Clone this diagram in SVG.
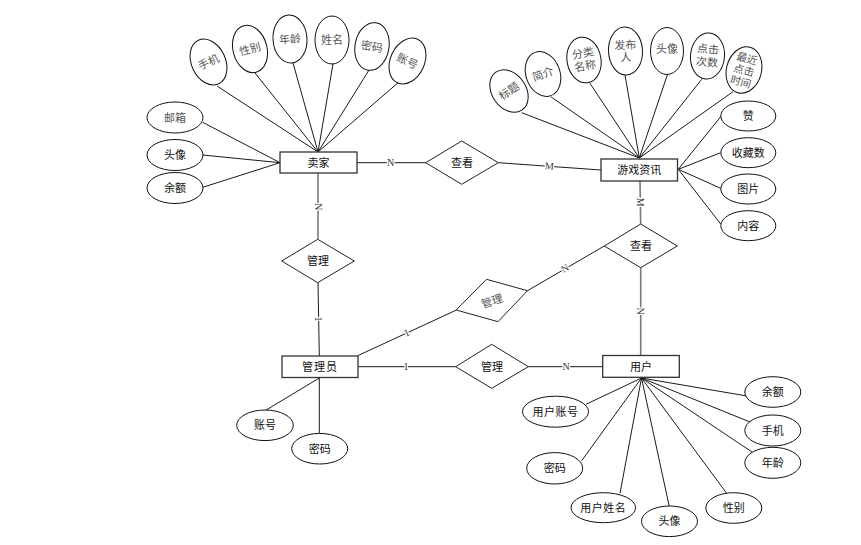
<svg xmlns="http://www.w3.org/2000/svg" width="861" height="545" viewBox="0 0 861 545">
<style>
.bg{fill:#fff}
.ln{stroke:#1a1a1a;stroke-width:1;fill:none}
.lg{stroke:#7a7a7a;stroke-width:1.6;fill:none}
.box{fill:#fff;stroke:#333;stroke-width:1.3}
.dia{fill:#fff;stroke:#222;stroke-width:1}
.el{fill:#fff;stroke:#111;stroke-width:1}
.t{font-family:"Noto Sans CJK SC","Noto Sans",sans-serif;font-size:11px;fill:#111;text-anchor:middle}
.tg{font-family:"Liberation Serif","Noto Sans CJK SC",serif;font-size:11px;fill:#555;text-anchor:middle}
.ts{font-size:10.5px}
.lb{font-family:"Liberation Serif",serif;font-size:10px;fill:#333;text-anchor:middle;paint-order:stroke;stroke:#fff;stroke-width:2.5}
</style>
<rect class="bg" x="0" y="0" width="861" height="545"/>
<g id="connectors">
<line class="ln" x1="217" y1="86" x2="318" y2="152"/>
<line class="ln" x1="255" y1="73" x2="318" y2="152"/>
<line class="ln" x1="293" y1="63" x2="318" y2="152"/>
<line class="ln" x1="333" y1="64" x2="318" y2="152"/>
<line class="ln" x1="369" y1="70" x2="318" y2="152"/>
<line class="ln" x1="400" y1="81" x2="318" y2="152"/>
<line class="ln" x1="202.7" y1="122.3" x2="280" y2="162.7"/>
<line class="ln" x1="202.7" y1="155" x2="280" y2="162.7"/>
<line class="ln" x1="202.7" y1="187.3" x2="280" y2="162.7"/>
<line class="ln" x1="521.7" y1="112.7" x2="639.3" y2="158"/>
<line class="ln" x1="550.7" y1="96.7" x2="639.3" y2="158"/>
<line class="ln" x1="590" y1="83.3" x2="639.3" y2="158"/>
<line class="ln" x1="625" y1="75" x2="639.3" y2="158"/>
<line class="ln" x1="667.3" y1="75" x2="639.3" y2="158"/>
<line class="ln" x1="701.7" y1="79.3" x2="639.3" y2="158"/>
<line class="ln" x1="733" y1="91.7" x2="639.3" y2="158"/>
<line class="ln" x1="678.3" y1="169.3" x2="720.7" y2="116.7"/>
<line class="ln" x1="678.3" y1="169.3" x2="720.7" y2="152.7"/>
<line class="ln" x1="678.3" y1="169.3" x2="720.7" y2="188.3"/>
<line class="ln" x1="678.3" y1="169.3" x2="720.7" y2="224"/>
<line class="ln" x1="641.5" y1="378" x2="586" y2="404.3"/>
<line class="ln" x1="641.5" y1="378" x2="581.7" y2="460.7"/>
<line class="ln" x1="641.5" y1="378" x2="620" y2="493.3"/>
<line class="ln" x1="641.5" y1="378" x2="669.3" y2="506.7"/>
<line class="ln" x1="641.5" y1="378" x2="726.7" y2="493.3"/>
<line class="ln" x1="641.5" y1="378" x2="747" y2="396"/>
<line class="ln" x1="641.5" y1="378" x2="750" y2="422"/>
<line class="ln" x1="641.5" y1="378" x2="752" y2="452"/>
<line class="ln" x1="319.3" y1="378" x2="265" y2="410.7"/>
<line class="ln" x1="319.3" y1="378" x2="319.3" y2="433.3"/>
<line class="ln" x1="357" y1="162.7" x2="426" y2="162.7"/>
<line class="ln" x1="498.3" y1="162.7" x2="601" y2="170"/>
<line class="lg" x1="318" y1="173.3" x2="318" y2="239.3"/>
<line class="ln" x1="318" y1="282.7" x2="319.3" y2="356"/>
<line class="lg" x1="640" y1="181" x2="640.7" y2="224"/>
<line class="lg" x1="640.7" y1="267.7" x2="640.7" y2="356"/>
<line class="ln" x1="358" y1="366.7" x2="455.7" y2="366.7"/>
<line class="ln" x1="528.3" y1="366.7" x2="603" y2="366.7"/>
<line class="ln" x1="357.7" y1="355.7" x2="456.5" y2="310"/>
<line class="ln" x1="527.5" y1="290.7" x2="604.3" y2="246"/>
<text class="lb" x="390.7" y="166">N</text>
<text class="lb" transform="translate(549.3,166) rotate(4)" y="3.3">M</text>
<text class="lb" transform="translate(318,206.7) rotate(90)" y="3.3">N</text>
<text class="lb" transform="translate(318.6,319) rotate(90)" y="3.3">1</text>
<text class="lb" transform="translate(640.4,202.3) rotate(90)" y="3.3">M</text>
<text class="lb" transform="translate(640.7,311) rotate(90)" y="3.3">N</text>
<text class="lb" x="406" y="370">1</text>
<text class="lb" x="566" y="370">N</text>
<text class="lb" transform="translate(406.7,332.7) rotate(-25)" y="3.3">1</text>
<text class="lb" transform="translate(565,268.3) rotate(-30)" y="3.3">N</text>
</g>
<g id="seller">
<rect class="box" x="280" y="152" width="77" height="21"/>
<text class="t" x="318.5" y="166.5">卖家</text>
</g>
<g id="seller-phone" transform="translate(208.5,62) rotate(-25)"><ellipse class="el" rx="17" ry="24"/><text class="tg" y="4">手机</text></g>
<g id="seller-gender" transform="translate(250,49) rotate(-15)"><ellipse class="el" rx="17" ry="24"/><text class="tg" y="4">性别</text></g>
<g id="seller-age" transform="translate(290,39) rotate(-4)"><ellipse class="el" rx="17" ry="24"/><text class="tg" y="4">年龄</text></g>
<g id="seller-name" transform="translate(332,40) rotate(0)"><ellipse class="el" rx="17" ry="24"/><text class="tg" y="4">姓名</text></g>
<g id="seller-pwd" transform="translate(372,46.5) rotate(10)"><ellipse class="el" rx="17" ry="24"/><text class="tg" y="4">密码</text></g>
<g id="seller-account" transform="translate(407.5,61) rotate(25)"><ellipse class="el" rx="17" ry="24"/><text class="tg" y="4">账号</text></g>
<g id="seller-email"><ellipse class="el" cx="175" cy="117.5" rx="28" ry="15.5"/><text class="tg" x="175" y="121.5">邮箱</text></g>
<g id="seller-avatar"><ellipse class="el" cx="175" cy="155" rx="28" ry="15.5"/><text class="t" x="175" y="159">头像</text></g>
<g id="seller-balance"><ellipse class="el" cx="175" cy="188" rx="28" ry="15.5"/><text class="t" x="175" y="192">余额</text></g>
<g id="view1">
<polygon class="dia" points="461.7,141 498.3,162.7 461.7,184.3 425.7,162.7"/>
<text class="t" x="462" y="166.7">查看</text>
</g>
<g id="gameinfo">
<rect class="box" x="601" y="159" width="76.5" height="22"/>
<text class="t" x="639.3" y="174">游戏资讯</text>
</g>
<g id="gi-title" transform="translate(509,91) rotate(-35)"><ellipse class="el" rx="17" ry="23"/><text class="tg" y="4">标题</text></g>
<g id="gi-intro" transform="translate(543,74) rotate(-20)"><ellipse class="el" rx="17" ry="23"/><text class="tg" y="4">简介</text></g>
<g id="gi-category" transform="translate(584,60) rotate(-10)"><ellipse class="el" rx="17" ry="23"/><text class="tg" y="-3">分类</text><text class="tg" y="10">名称</text></g>
<g id="gi-publisher" transform="translate(625.5,51) rotate(-3)"><ellipse class="el" rx="17" ry="24"/><text class="tg" y="-2">发布</text><text class="tg" y="10">人</text></g>
<g id="gi-avatar" transform="translate(667,51) rotate(0)"><ellipse class="el" rx="16.5" ry="23.5"/><text class="tg" y="2">头像</text></g>
<g id="gi-clicks" transform="translate(707.5,56) rotate(5)"><ellipse class="el" rx="17" ry="23"/><text class="tg" y="-3">点击</text><text class="tg" y="10">次数</text></g>
<g id="gi-lastclick" transform="translate(744,70) rotate(15)"><ellipse class="el" rx="17.5" ry="23.5"/><text class="tg ts" y="-8">最近</text><text class="tg ts" y="4">点击</text><text class="tg ts" y="16">时间</text></g>
<g id="gi-like"><ellipse class="el" cx="748.3" cy="116" rx="27.5" ry="15"/><text class="t" x="748.3" y="120">赞</text></g>
<g id="gi-fav"><ellipse class="el" cx="748.3" cy="152.7" rx="27.5" ry="15"/><text class="t" x="748.3" y="156.7">收藏数</text></g>
<g id="gi-image"><ellipse class="el" cx="748.3" cy="189" rx="27.5" ry="15"/><text class="t" x="748.3" y="193">图片</text></g>
<g id="gi-content"><ellipse class="el" cx="748.3" cy="225.7" rx="27.5" ry="15"/><text class="t" x="748.3" y="229.7">内容</text></g>
<g id="manage1">
<polygon class="dia" points="317.7,239.3 354.3,261 317.7,282.7 281.7,261"/>
<text class="t" x="318" y="265">管理</text>
</g>
<g id="view2">
<polygon class="dia" points="640.7,224 677.3,246 640.7,267.7 604.3,246"/>
<text class="t" x="641" y="250">查看</text>
</g>
<g id="manage2">
<polygon class="dia" points="456.2,310 486.5,279.3 527.5,290.7 498,321.7"/>
<text class="tg" transform="translate(492,301) rotate(-18)" y="4">管理</text>
</g>
<g id="admin">
<rect class="box" x="282" y="356" width="76" height="21.5"/>
<text class="t" x="320" y="370.7" letter-spacing="1">管理员</text>
</g>
<g id="admin-account"><ellipse class="el" cx="265" cy="425.3" rx="28.3" ry="15.3"/><text class="t" x="265" y="429.3">账号</text></g>
<g id="admin-pwd"><ellipse class="el" cx="319.7" cy="448.7" rx="28" ry="15.3"/><text class="t" x="319.7" y="452.7">密码</text></g>
<g id="manage3">
<polygon class="dia" points="491.7,344.3 528.3,366.7 491.7,388.3 455.7,366.7"/>
<text class="t" x="492" y="370.7">管理</text>
</g>
<g id="user">
<rect class="box" x="602.7" y="355.5" width="76.6" height="21.8"/>
<text class="t" x="641" y="370.5">用户</text>
</g>
<g id="user-account"><ellipse class="el" cx="555.5" cy="411.7" rx="33" ry="15.5"/><text class="t" x="555.5" y="415.7" letter-spacing="0.5">用户账号</text></g>
<g id="user-pwd"><ellipse class="el" cx="554.7" cy="468.3" rx="28" ry="15.7"/><text class="t" x="554.7" y="472.3">密码</text></g>
<g id="user-name"><ellipse class="el" cx="603.3" cy="507.7" rx="32.3" ry="15"/><text class="t" x="603.3" y="511.7" letter-spacing="0.5">用户姓名</text></g>
<g id="user-avatar"><ellipse class="el" cx="669.5" cy="521.3" rx="28" ry="15.3"/><text class="t" x="669.5" y="525.3">头像</text></g>
<g id="user-gender"><ellipse class="el" cx="733.8" cy="508" rx="28" ry="15.3"/><text class="t" x="733.8" y="512">性别</text></g>
<g id="user-balance"><ellipse class="el" cx="772.8" cy="392" rx="28" ry="15.3"/><text class="t" x="772.8" y="396">余额</text></g>
<g id="user-phone"><ellipse class="el" cx="772.8" cy="430.5" rx="28" ry="15.5"/><text class="t" x="772.8" y="434.5">手机</text></g>
<g id="user-age"><ellipse class="el" cx="772.8" cy="462.8" rx="28" ry="15.5"/><text class="t" x="772.8" y="466.8">年龄</text></g>
</svg>
